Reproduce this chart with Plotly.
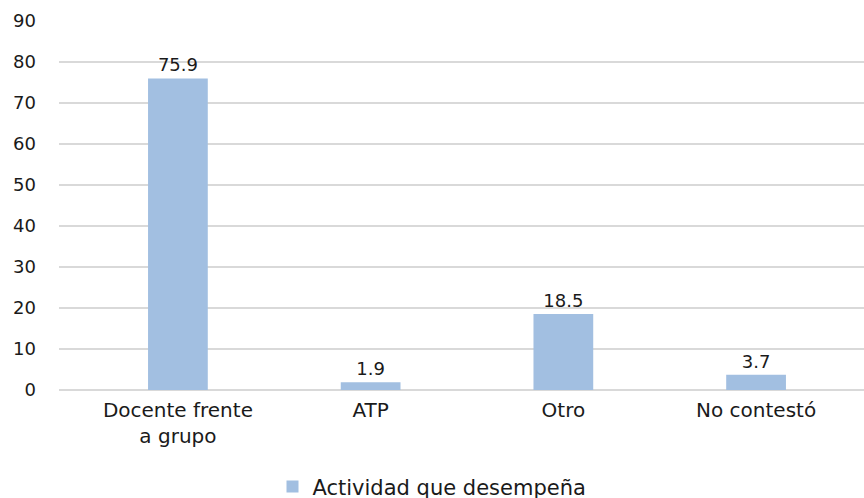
import plotly.graph_objects as go

categories = ["Docente frente<br>a grupo", "ATP", "Otro", "No contestó"]
values = [75.9, 1.9, 18.5, 3.7]
labels = ["75.9", "1.9", "18.5", "3.7"]
series_name = "Actividad que desempeña"
y_ticks = [0, 10, 20, 30, 40, 50, 60, 70, 80, 90]

FONT = "DejaVu Sans, sans-serif"
TXT = "#1a1a1a"

fig = go.Figure()
fig.add_trace(go.Bar(
    x=list(range(len(categories))),
    y=values,
    name=series_name,
    text=labels,
    textposition="outside",
    cliponaxis=False,
    textfont=dict(family=FONT, size=18, color=TXT),
    marker=dict(color="#A2BFE1", line=dict(width=0)),
    width=0.31,
    showlegend=True,
))

fig.update_layout(
    width=864, height=498,
    margin=dict(l=59, r=0, t=20, b=108, autoexpand=False),
    paper_bgcolor="white", plot_bgcolor="white",
    font=dict(family=FONT, size=18, color=TXT),
    showlegend=True,
    legend=dict(orientation="h", xref="container", yref="paper",
                x=0.5, xanchor="center", y=-0.262, yanchor="middle",
                font=dict(family=FONT, size=21, color=TXT),
                itemwidth=30),
    xaxis=dict(
        tickmode="array",
        tickvals=list(range(len(categories))),
        ticktext=categories,
        range=[-0.617, 3.56],
        showgrid=False, zeroline=False, showline=False,
        ticks="", ticklabelstandoff=6,
        tickfont=dict(family=FONT, size=20, color=TXT),
    ),
    yaxis=dict(
        range=[0, 90.15],
        tickvals=y_ticks,
        showgrid=True, gridcolor="#D9D9D9", gridwidth=1.5,
        zeroline=True, zerolinecolor="#D9D9D9", zerolinewidth=1.5,
        showline=False, ticks="",
        ticklabelstandoff=22,
        tickfont=dict(family=FONT, size=18, color=TXT),
    ),
)

fig.write_html("out.html", config={"displayModeBar": False},
               post_script="document.body.style.margin='0';")
